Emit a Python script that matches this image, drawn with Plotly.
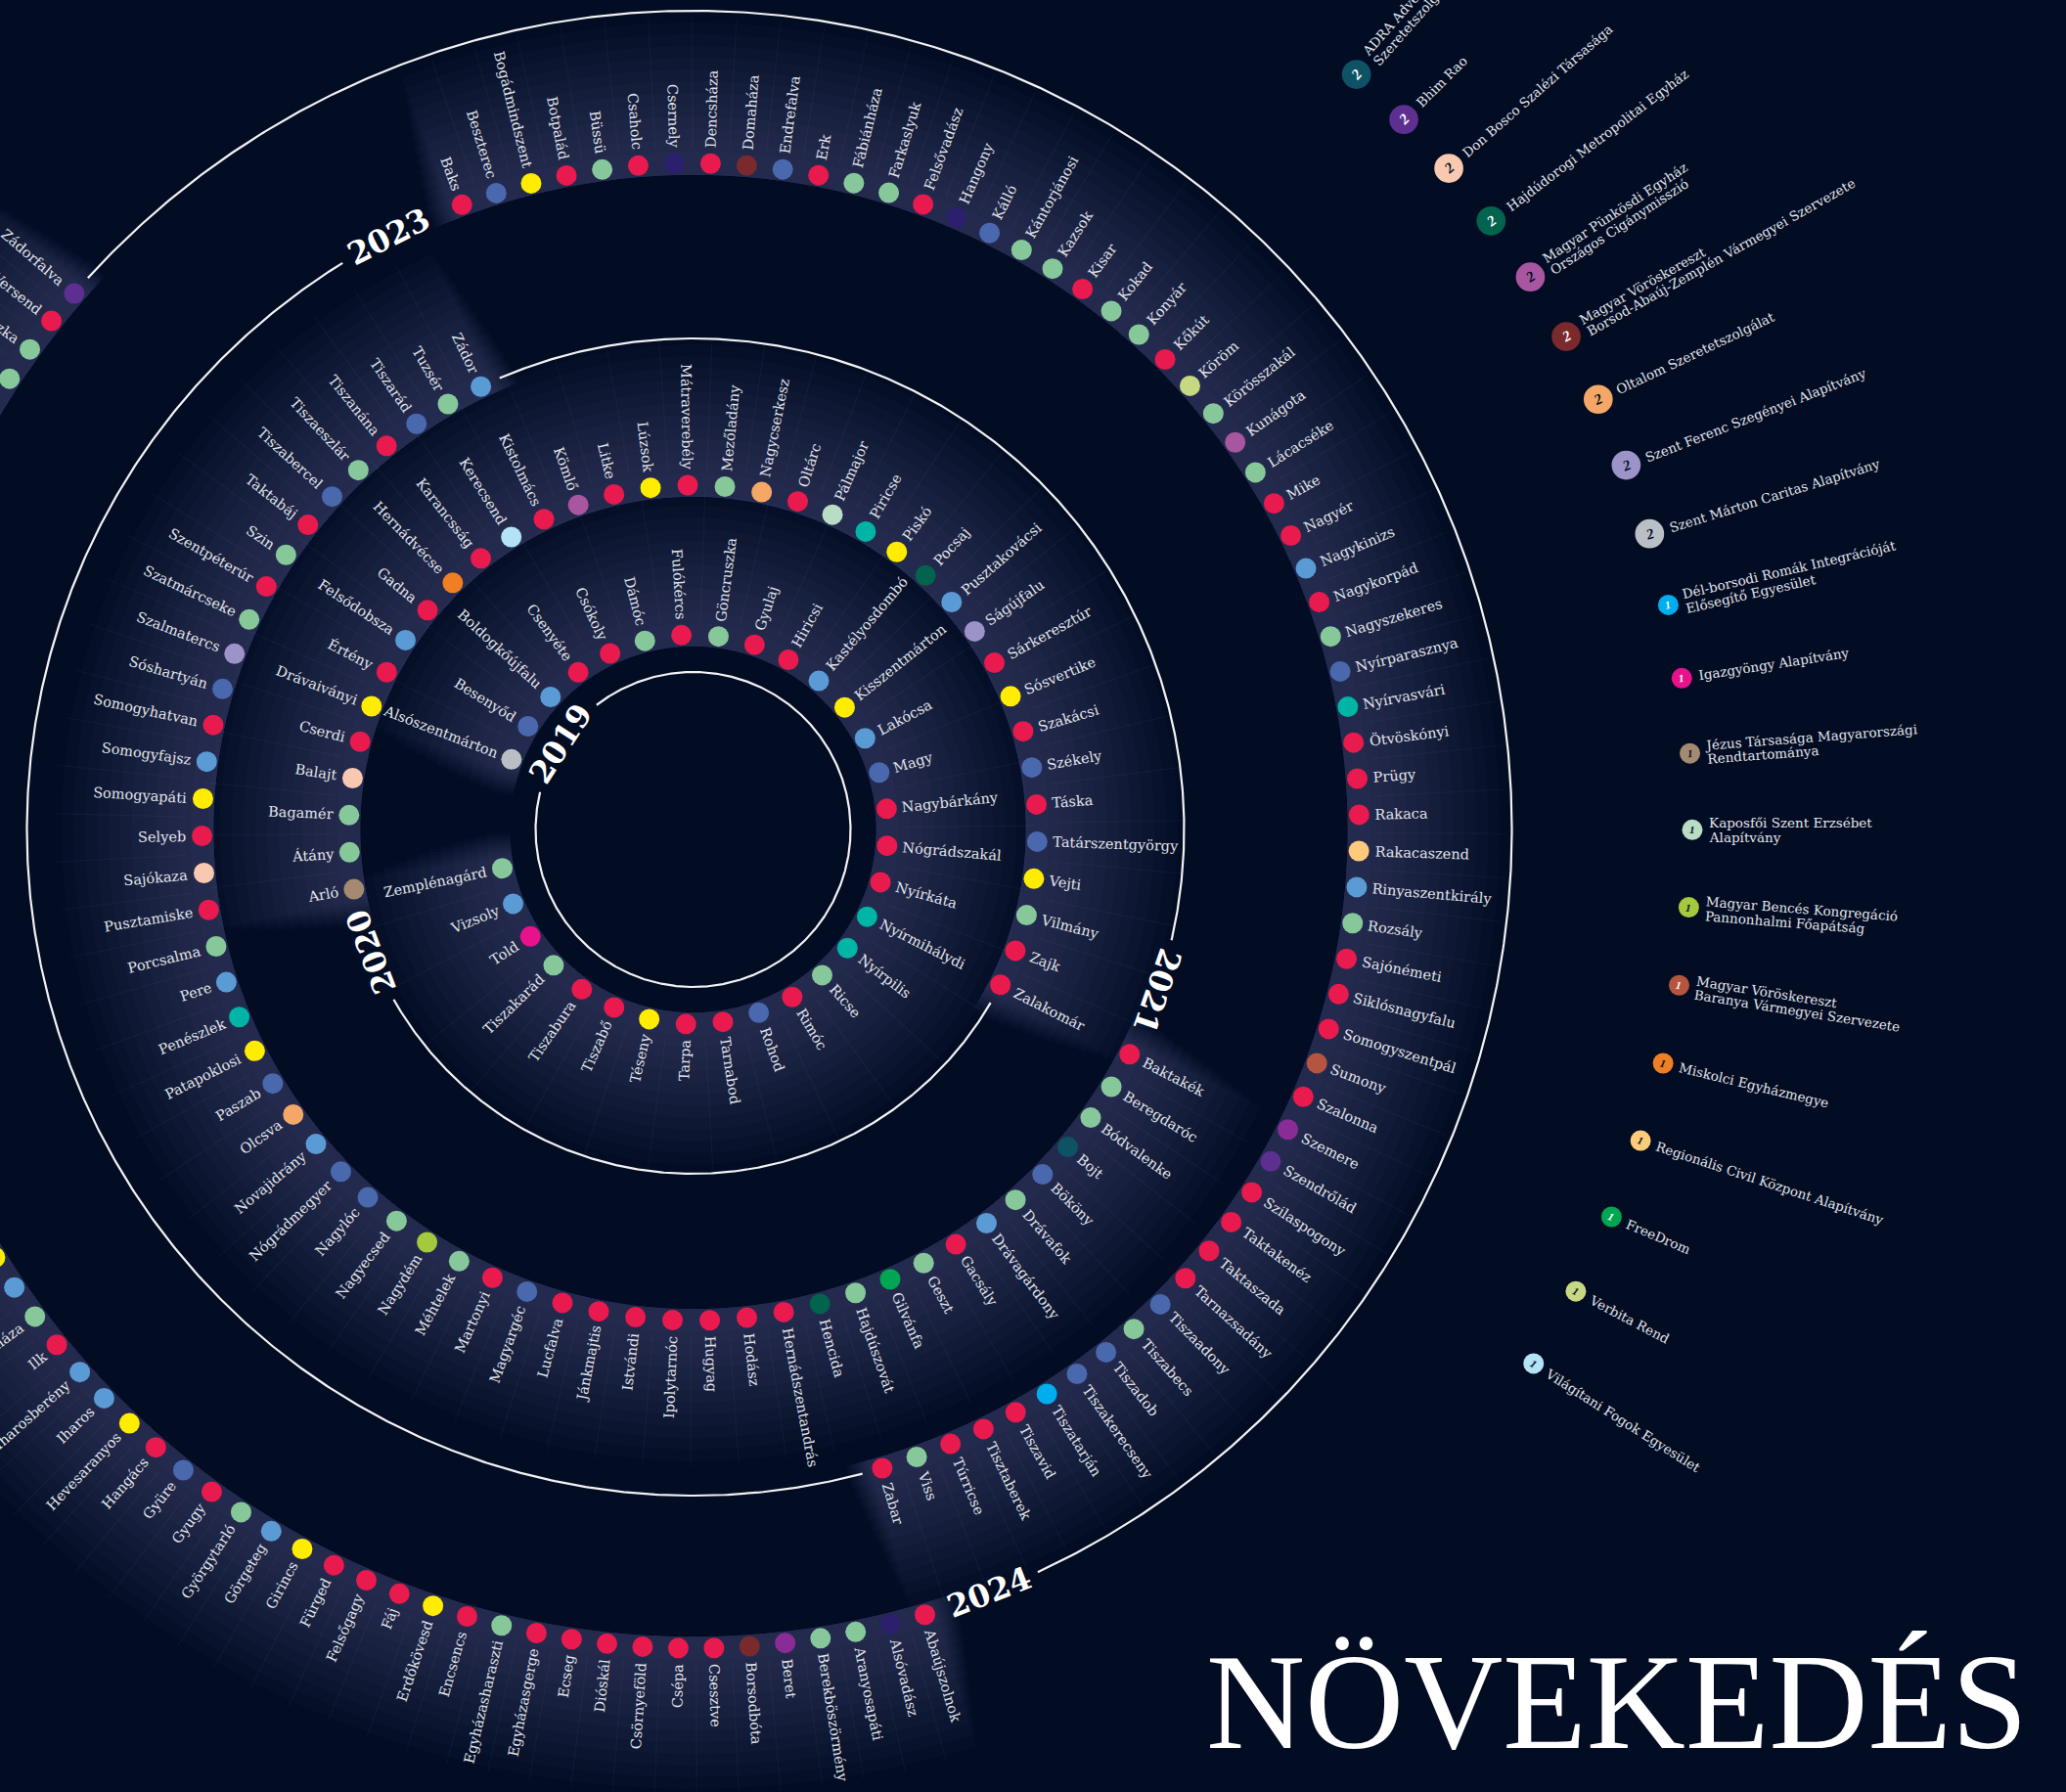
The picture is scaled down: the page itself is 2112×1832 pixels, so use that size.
import math
import plotly.graph_objects as go

# ------------------------------------------------------------------ data
years = ["2019", "2020", "2021", "2023", "2024"]

villages_2019 = ["Alsószentmárton", "Besenyőd", "Boldogkőújfalu", "Csenyéte", "Csókoly", "Dámóc",
                 "Fulókércs", "Göncruszka", "Gyulaj", "Hiricsi", "Kastélyosdombó", "Kisszentmárton",
                 "Lakócsa", "Magy", "Nagybárkány", "Nógrádszakál", "Nyírkáta", "Nyírmihálydi",
                 "Nyírpilis", "Ricse", "Rimóc", "Rohod", "Tarnabod", "Tarpa", "Téseny", "Tiszabő",
                 "Tiszabura", "Tiszakarád", "Told", "Vizsoly", "Zemplénagárd"]
orgs_2019 = ["SZM", "B", "S", "R", "R", "M", "R", "M", "R", "R", "S", "Y", "S", "B", "R", "R", "R",
             "T", "T", "M", "R", "B", "R", "R", "Y", "R", "R", "M", "IGAZ", "S", "M"]

villages_2020 = ["Arló", "Átány", "Bagamér", "Balajt", "Cserdi", "Drávaiványi", "Értény", "Felsődobsza",
                 "Gadna", "Hernádvécse", "Karancsság", "Kerecsend", "Kistolmács", "Kömlő", "Litke",
                 "Lúzsok", "Mátraverebély", "Mezőladány", "Nagycserkesz", "Oltárc", "Pálmajor",
                 "Piricse", "Piskó", "Pocsaj", "Pusztakovácsi", "Ságújfalu", "Sárkeresztúr",
                 "Sósvertike", "Szakácsi", "Székely", "Táska", "Tatárszentgyörgy", "Vejti", "Vilmány",
                 "Zajk", "Zalakomár"]
orgs_2020 = ["JEZ", "M", "M", "DB", "R", "Y", "R", "S", "R", "MISK", "R", "VIL", "R", "PUNK", "R", "Y",
             "R", "M", "OLT", "R", "KAP", "T", "Y", "HAJ", "S", "SZF", "R", "Y", "R", "B", "R", "B",
             "Y", "M", "R", "R"]

villages_2021 = ["Baktakék", "Beregdaróc", "Bódvalenke", "Bojt", "Bököny", "Drávafok", "Drávagárdony",
                 "Gacsály", "Geszt", "Gilvánfa", "Hajdúszovát", "Hencida", "Hernádszentandrás", "Hodász",
                 "Hugyag", "Ipolytarnóc", "Istvándi", "Jánkmajtis", "Lucfalva", "Magyargéc", "Martonyi",
                 "Méhtelek", "Nagydém", "Nagyecsed", "Nagylóc", "Nógrádmegyer", "Novajidrány", "Olcsva",
                 "Paszab", "Patapoklosi", "Penészlek", "Pere", "Porcsalma", "Pusztamiske", "Sajókaza",
                 "Selyeb", "Somogyapáti", "Somogyfajsz", "Somogyhatvan", "Sóshartyán", "Szalmatercs",
                 "Szatmárcseke", "Szentpéterúr", "Szin", "Taktabáj", "Tiszabercel", "Tiszaeszlár",
                 "Tiszanána", "Tiszarád", "Tuzsér", "Zádor"]
orgs_2021 = ["R", "M", "M", "ADRA", "B", "M", "S", "R", "M", "FREE", "M", "HAJ", "R", "R", "R", "R", "R",
             "R", "R", "B", "R", "M", "BEN", "M", "B", "B", "S", "OLT", "B", "Y", "T", "S", "M", "R",
             "DB", "R", "Y", "S", "R", "B", "SZF", "M", "R", "M", "R", "B", "M", "R", "B", "M", "S"]

villages_2023 = ["Baks", "Beszterec", "Bogádmindszent", "Botpalád", "Büssü", "Csaholc", "Csernely",
                 "Dencsháza", "Domaháza", "Endrefalva", "Erk", "Fábiánháza", "Farkaslyuk", "Felsővadász",
                 "Hangony", "Kálló", "Kántorjánosi", "Kazsok", "Kisar", "Kokad", "Konyár", "Kőkút",
                 "Köröm", "Körösszakál", "Kunágota", "Lácacséke", "Mike", "Nagyér", "Nagykinizs",
                 "Nagykorpád", "Nagyszekeres", "Nyírparasznya", "Nyírvasvári", "Ötvöskónyi", "Prügy",
                 "Rakaca", "Rakacaszend", "Rinyaszentkirály", "Rozsály", "Sajónémeti", "Siklósnagyfalu",
                 "Somogyszentpál", "Sumony", "Szalonna", "Szemere", "Szendrőlád", "Szilaspogony",
                 "Taktakenéz", "Taktaszada", "Tarnazsadány", "Tiszaadony", "Tiszabecs", "Tiszadob",
                 "Tiszakerecseny", "Tiszatarján", "Tiszavid", "Tisztaberek", "Túrricse", "Viss", "Zabar"]
orgs_2023 = ["R", "B", "Y", "R", "M", "R", "N", "R", "MVBAZ", "B", "R", "M", "M", "R", "N", "B", "M", "M",
             "R", "M", "M", "R", "VERB", "M", "PUNK", "M", "R", "R", "S", "R", "M", "B", "T", "R", "R",
             "R", "REG", "S", "M", "R", "R", "R", "MVBAR", "R", "V", "BHIM", "R", "R", "R", "R", "B",
             "M", "B", "B", "DEL", "R", "R", "R", "M", "R"]

# 2024: the ring runs off the left edge; first visible run and the visible tail
villages_2024_head = ["Abaújszolnok", "Alsóvadász", "Aranyosapáti", "Berekböszörmény", "Beret",
                      "Borsodbóta", "Csesztve", "Csépa", "Csörnyeföld", "Dióskál", "Ecseg",
                      "Egyházasgerge", "Egyházasharaszti", "Encsencs", "Erdőkövesd", "Fáj", "Felsőgagy",
                      "Fürged", "Girincs", "Görgeteg", "Györgytarló", "Gyugy", "Gyüre", "Hangács",
                      "Hevesaranyos", "Iharos", "Iharosberény", "Ilk", "Kálmánháza", "", ""]
orgs_2024_head = ["R", "N", "M", "M", "V", "MVBAZ", "R", "R", "R", "R", "R", "R", "M", "R", "Y", "R",
                  "R", "R", "Y", "S", "M", "R", "B", "R", "Y", "S", "S", "R", "M", "S", "Y"]
villages_2024_tail = ["", "Uszka", "Versend", "Zádorfalva"]
orgs_2024_tail = ["M", "M", "R", "BHIM"]

legend_keys = ["ADRA", "BHIM", "DB", "HAJ", "PUNK", "MVBAZ", "OLT", "SZF", "SZM", "DEL", "IGAZ", "JEZ",
               "KAP", "BEN", "MVBAR", "MISK", "REG", "FREE", "VERB", "VIL"]
legend_labels = ["ADRA Adventista|Szeretetszolgálat", "Bhim Rao", "Don Bosco Szalézi Társasága",
                 "Hajdúdorogi Metropolitai Egyház", "Magyar Pünkösdi Egyház|Országos Cigánymisszió",
                 "Magyar Vöröskereszt|Borsod-Abaúj-Zemplén Vármegyei Szervezete",
                 "Oltalom Szeretetszolgálat", "Szent Ferenc Szegényei Alapítvány",
                 "Szent Márton Caritas Alapítvány", "Dél-borsodi Romák Integrációját|Elősegítő Egyesület",
                 "Igazgyöngy Alapítvány", "Jézus Társasága Magyarországi|Rendtartománya",
                 "Kaposfői Szent Erzsébet|Alapítvány", "Magyar Bencés Kongregáció|Pannonhalmi Főapátság",
                 "Magyar Vöröskereszt|Baranya Vármegyei Szervezete", "Miskolci Egyházmegye",
                 "Regionális Civil Központ Alapítvány", "FreeDrom", "Verbita Rend",
                 "Világítani Fogok Egyesület"]
legend_counts = [2, 2, 2, 2, 2, 2, 2, 2, 2, 1, 1, 1, 1, 1, 1, 1, 1, 1, 1, 1]

title_text = "NÖVEKEDÉS"

# ------------------------------------------------------------------ styles
BG = "#020c23"
org_colors = {
    "R": "#e91a4d", "M": "#87c89b", "B": "#4a68ae", "S": "#5b9bd5", "Y": "#ffec00",
    "T": "#00b4a6", "N": "#2b1f6e", "V": "#8a2c95",
    "ADRA": "#0e5266", "BHIM": "#5d2f91", "DB": "#f8c8b0", "HAJ": "#02634e", "PUNK": "#a7569f",
    "MVBAZ": "#7a2a2c", "OLT": "#f4a766", "SZF": "#9c93c8", "SZM": "#babfc6", "DEL": "#00aeef",
    "IGAZ": "#e8128c", "JEZ": "#a58a72", "KAP": "#b9dcc5", "BEN": "#a5c93c", "MVBAR": "#b5553f",
    "MISK": "#f07f24", "REG": "#fecb7a", "FREE": "#00a651", "VERB": "#c6d882", "VIL": "#b4e2f6",
}
badge_text_dark = {"DB", "PUNK", "OLT", "SZF", "SZM", "JEZ", "KAP", "BEN", "MISK", "REG", "VERB", "VIL"}
LABEL_COLOR = "#e2e4ea"
FONT = "DejaVu Serif"

# ------------------------------------------------------------------ layout geometry
W, H = 2112, 1832
CX, CY = 708.5, 848.0
ring_radius = {"2019": 199, "2020": 352, "2021": 502, "2023": 681, "2024": 837}
ring_first = {"2019": 291.1, "2020": 260.0, "2021": 117.25, "2023": 339.7, "2024": 163.55}
ring_last = {"2019": 618.5, "2020": 476.8, "2021": 334.4, "2023": 523.5, "2024": 310.9}
STEP_2024 = 2.498
year_label_pos = {"2019": (303.0, 161), "2020": (249.2, 352), "2021": (109.2, 502),
                  "2023": (332.8, 681), "2024": (158.8, 837)}
DOT = 21
LABEL_SIZE = 14.5


def pol(r, deg):
    t = math.radians(deg)
    return CX + r * math.sin(t), CY - r * math.cos(t)


def arc_pts(r, a0, a1, da=0.4):
    n = max(2, int(abs(a1 - a0) / da) + 1)
    return [pol(r, a0 + (a1 - a0) * i / (n - 1)) for i in range(n)]


def mirror_text(name, right, size, gap_px):
    nb = "\u00a0" * max(1, round(gap_px / (0.318 * size)))
    inv = '<span style="color:rgba(0,0,0,0)">' + name + '</span>'
    return inv + nb + name if right else name + nb + inv


def radial_ann(x, y, deg, name, size, color, gap_px):
    d = deg % 360
    right = d < 180
    ang = d - 90 if right else d - 270
    return dict(x=x, y=y, xref="x", yref="y", text=mirror_text(name, right, size, gap_px),
                textangle=ang, showarrow=False, xanchor="center", yanchor="middle",
                font=dict(family=FONT, size=size, color=color))


# ring contents (angles from index)
rings = {}
data = {"2019": (villages_2019, orgs_2019), "2020": (villages_2020, orgs_2020),
        "2021": (villages_2021, orgs_2021), "2023": (villages_2023, orgs_2023)}
for y, (vs, os_) in data.items():
    n = len(vs)
    a0, a1 = ring_first[y], ring_last[y]
    angs = [a0 + (a1 - a0) * i / (n - 1) for i in range(n)]
    rings[y] = list(zip(vs, os_, angs))
head = [(v, o, ring_first["2024"] + STEP_2024 * i)
        for i, (v, o) in enumerate(zip(villages_2024_head, orgs_2024_head))]
nt = len(villages_2024_tail)
tail = [(v, o, ring_last["2024"] - STEP_2024 * (nt - 1 - i))
        for i, (v, o) in enumerate(zip(villages_2024_tail, orgs_2024_tail))]
rings["2024"] = head + tail

fig = go.Figure()

# glow bands behind each ring (radial fade + soft angular ends)
for y in years:
    r = ring_radius[y]
    stp = (ring_last[y] - ring_first[y]) / max(1, len(rings[y]) - 1) if y != "2024" else STEP_2024
    for k in range(12):
        pad = stp * (0.3 + 0.06 * (11 - k))
        a0 = ring_first[y] - pad
        a1 = ring_last[y] + pad
        ro = r + 12 * (k + 1)
        ri = r - 12
        outer = arc_pts(ro, a0, a1, 0.6)
        inner = arc_pts(ri, a1, a0, 0.6)
        pts = outer + inner + [outer[0]]
        fig.add_trace(go.Scatter(x=[p[0] for p in pts], y=[p[1] for p in pts], mode="lines",
                                 fill="toself", fillcolor="rgba(110,125,165,0.034)",
                                 line=dict(width=0), hoverinfo="skip", showlegend=False))

# faint rays between labels
rx, ry = [], []
for y in years:
    r = ring_radius[y]
    angs = [a for _, _, a in rings[y]]
    for a, b in zip(angs[:-1], angs[1:]):
        if b - a > 5 * STEP_2024 and y == "2024":
            continue
        m = (a + b) / 2
        p0 = pol(r + 16, m)
        p1 = pol(r + 150, m)
        rx += [p0[0], p1[0], None]
        ry += [p0[1], p1[1], None]
fig.add_trace(go.Scatter(x=rx, y=ry, mode="lines", line=dict(color="rgba(160,175,215,0.05)", width=1.3),
                         hoverinfo="skip", showlegend=False))

# white year arcs
arcs = {}
lab19 = year_label_pos["2019"]
arcs["2019"] = (lab19[1], lab19[0] + 54 / lab19[1] * 180 / math.pi,
                lab19[0] + 360 - 54 / lab19[1] * 180 / math.pi)
for y in ["2020", "2021", "2023", "2024"]:
    r = ring_radius[y]
    start = ring_last[y] + 21 / r * 180 / math.pi
    lab = year_label_pos[y][0]
    end = lab - 54 / r * 180 / math.pi
    while end < start:
        end += 360
    arcs[y] = (r, start, end)
for y, (r, a0, a1) in arcs.items():
    pts = arc_pts(r, a0, a1, 0.3)
    fig.add_trace(go.Scatter(x=[p[0] for p in pts], y=[p[1] for p in pts], mode="lines",
                             line=dict(color="rgba(255,255,255,0.95)", width=2.2),
                             hoverinfo="skip", showlegend=False))

# dots
annotations = []
for y in years:
    r = ring_radius[y]
    xs, ys, cs = [], [], []
    for v, o, a in rings[y]:
        x, yy = pol(r, a)
        xs.append(x); ys.append(yy); cs.append(org_colors[o])
        if v:
            annotations.append(radial_ann(x, yy, a, v, LABEL_SIZE, LABEL_COLOR, 30))
    fig.add_trace(go.Scatter(x=xs, y=ys, mode="markers",
                             marker=dict(size=DOT, color=cs, line=dict(width=0)),
                             hoverinfo="skip", showlegend=False))

# year labels
for y in years:
    a, r = year_label_pos[y]
    x, yy = pol(r, a)
    d = a % 360
    ang = d - 180 if 120 < d < 240 else d
    if ang > 180:
        ang -= 360
    annotations.append(dict(x=x, y=yy, xref="x", yref="y", text="<b>" + y + "</b>", textangle=ang,
                            showarrow=False, xanchor="center", yanchor="middle",
                            font=dict(family=FONT, size=32, color="white")))

# legend along an outer arc
bx, by, bc, bs = [], [], [], []
for i, (k, lab, cnt) in enumerate(zip(legend_keys, legend_labels, legend_counts)):
    a = 41.3 + 3.7 * i + 0.03 * i * i
    r = 1027.5 - 0.5 * i
    x, yy = pol(r, a)
    size = DOT * math.sqrt(cnt)
    bx.append(x); by.append(yy); bc.append(org_colors[k]); bs.append(size)
    ang = a - 90
    annotations.append(dict(x=x, y=yy, xref="x", yref="y", text="<b><i>%d</i></b>" % cnt,
                            textangle=ang, showarrow=False, xanchor="center", yanchor="middle",
                            font=dict(family="Liberation Serif", size=15 if cnt > 1 else 11,
                                      color=BG if k in badge_text_dark else "white")))
    lines = lab.split("|")
    gap = 2 * (size / 2 + 7)
    t = math.radians(ang)
    downx, downy = -math.sin(t), math.cos(t)
    fs = 13.5
    nl = len(lines)
    for j, ln in enumerate(lines):
        off = (j - (nl - 1) / 2) * fs * 1.08
        annotations.append(radial_ann(x + downx * off, yy + downy * off, a, ln, fs, LABEL_COLOR, gap))
fig.add_trace(go.Scatter(x=bx, y=by, mode="markers",
                         marker=dict(size=bs, color=bc, opacity=1, line=dict(width=0)),
                         hoverinfo="skip", showlegend=False))

# title
annotations.append(dict(x=1653, y=1739, xref="x", yref="y", text=title_text, showarrow=False,
                        xanchor="center", yanchor="middle",
                        font=dict(family="Liberation Serif", size=140, color="white")))

fig.update_layout(
    width=W, height=H, margin=dict(l=0, r=0, t=0, b=0),
    paper_bgcolor=BG, plot_bgcolor=BG,
    xaxis=dict(range=[0, W], visible=False, fixedrange=True),
    yaxis=dict(range=[H, 0], visible=False, fixedrange=True),
    annotations=annotations, showlegend=False,
)
fig.write_html("out.html", config={"displayModeBar": False},
               post_script="document.body.style.margin='0';document.body.style.background='" + BG + "';")
